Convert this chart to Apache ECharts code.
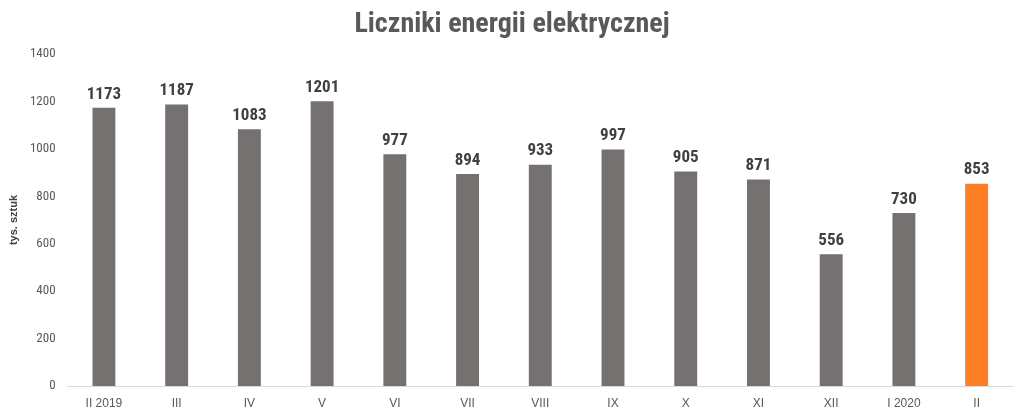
<!DOCTYPE html>
<html>
<head>
<meta charset="utf-8">
<script src="https://cdn.jsdelivr.net/npm/echarts@6/dist/echarts.min.js"></script>
<style>html,body{margin:0;padding:0;background:#fff}#c{width:1024px;height:418px}</style>
</head>
<body>
<div id="c"></div>
<script>
const categories = ['II 2019','III','IV','V','VI','VII','VIII','IX','X','XI','XII','I 2020','II'];
const values = [1173,1187,1083,1201,977,894,933,997,905,871,556,730,853];
const yTicks = [0,200,400,600,800,1000,1200,1400];
const highlightIndex = 12;

const narrow = "'Liberation Sans Narrow','Arial Narrow','Roboto Condensed',sans-serif";
const chart = echarts.init(document.getElementById('c'));
chart.setOption({
  animation: false,
  backgroundColor: '#fff',
  title: {
    text: 'Liczniki energii elektrycznej',
    left: 'center', top: 6,
    textStyle: {fontFamily: narrow, fontWeight: 'bold', fontSize: 28, color: '#595959'}
  },
  grid: {left: 67, right: 11, top: 54, bottom: 32},
  xAxis: {
    type: 'category', data: categories,
    axisLine: {lineStyle: {color: '#d9d9d9'}},
    axisTick: {show: false},
    axisLabel: {color: '#595959', fontFamily: "'Liberation Sans',Arial,sans-serif", fontSize: 12, margin: 12}
  },
  yAxis: {
    type: 'value', min: yTicks[0], max: yTicks[yTicks.length-1], interval: 200,
    name: 'tys. sztuk', nameLocation: 'middle', nameGap: 42, nameRotate: 90,
    nameTextStyle: {color: '#404040', fontFamily: "'Liberation Sans',Arial,sans-serif", fontSize: 11, fontWeight: 'bold'},
    splitLine: {show: false},
    axisLine: {show: false}, axisTick: {show: false},
    axisLabel: {color: '#595959', fontFamily: narrow, fontSize: 13, margin: 12, formatter: v => String(v)}
  },
  series: [{
    type: 'bar',
    barWidth: '31.5%',
    data: values.map((v, i) => ({value: v, itemStyle: {color: i === highlightIndex ? '#FF7F27' : '#767171'}})),
    label: {show: true, position: 'top', distance: 5, color: '#404040', fontFamily: narrow, fontWeight: 'bold', fontSize: 17}
  }]
});
</script>
</body>
</html>
